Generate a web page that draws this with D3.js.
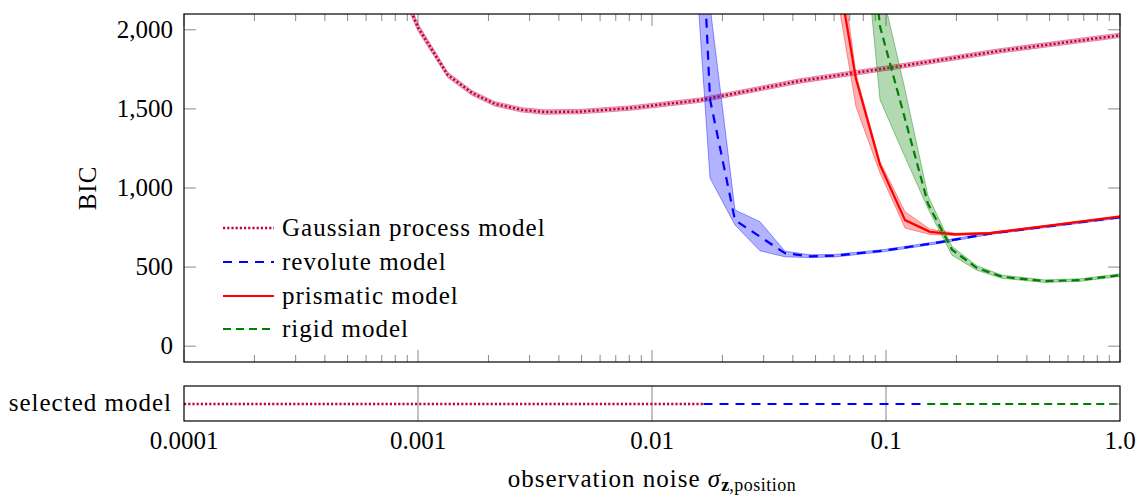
<!DOCTYPE html>
<html>
<head>
<meta charset="utf-8">
<script src="https://cdn.jsdelivr.net/npm/d3@7"></script>
<style>
  html, body { margin: 0; padding: 0; background: #fff; }
  svg { display: block; }
</style>
</head>
<body>
<div id="chart"></div>
<script>
// ---- data ----
const xTicks = [0.0001, 0.001, 0.01, 0.1, 1.0];
const xTickLabels = ["0.0001", "0.001", "0.01", "0.1", "1.0"];
const yTicks = [0, 500, 1000, 1500, 2000];

// Gaussian process model
const gpNoise = [0.00085, 0.001, 0.00134, 0.0017, 0.00213, 0.00278, 0.00349, 0.00492, 0.00805, 0.016, 0.0429, 0.115, 0.307, 1.0];
const gpBIC   = [2260, 2015, 1715, 1601, 1532, 1494, 1480, 1483, 1505, 1555, 1677, 1770, 1867, 1965];
const gpLo    = [2232, 1992, 1698, 1586, 1518, 1480, 1466, 1469, 1491, 1541, 1663, 1756, 1853, 1951];
const gpHi    = [2288, 2038, 1732, 1616, 1546, 1508, 1494, 1497, 1519, 1569, 1691, 1784, 1881, 1979];

// revolute model
const revNoise = [0.01384, 0.0177, 0.02263, 0.02894, 0.03701, 0.04734, 0.06053, 0.099, 0.162, 0.2782, 0.5024, 1.0];
const revBIC   = [5000, 1560, 797, 692, 588, 568, 572, 605, 652, 712, 759, 815];
const revLo    = [3400, 1063, 766, 603, 565, 560, 564, 598, 645, 706, 753, 809];
const revHi    = [8000, 2150, 861, 787, 600, 578, 580, 612, 659, 718, 765, 821];

// prismatic model
const priNoise = [0.0582, 0.0744, 0.0943, 0.1206, 0.1542, 0.1972, 0.2782, 0.5024, 1.0];
const priBIC   = [2620, 1690, 1146, 797, 723, 707, 715, 763, 820];
const priLo    = [2450, 1515, 1095, 747, 706, 700, 710, 758, 815];
const priHi    = [2900, 1720, 1166, 850, 740, 714, 720, 768, 825];

// rigid model
const rigNoise = [0.0737, 0.0943, 0.1194, 0.1512, 0.1915, 0.2448, 0.3132, 0.478, 0.675, 1.0];
const rigBIC   = [3500, 2020, 1460, 900, 610, 494, 439, 411, 418, 449];
const rigLo    = [3200, 1557, 1210, 870, 575, 480, 429, 403, 410, 441];
const rigHi    = [3800, 2300, 1650, 950, 630, 508, 449, 419, 426, 457];

// selected model strip: segment boundaries
const selBounds = [0.0001, 0.0166, 0.15, 1.0];
const selModels = ["gp", "rev", "rig"];

// ---- styles ----
const FONT = "'Liberation Serif', 'DejaVu Serif', 'Times New Roman', serif";
const styles = {
  gp:  { name: "Gaussian process model", color: "#c4003f", dash: "2.2,2", width: 2.5 },
  rev: { name: "revolute model",         color: "#0000ff", dash: "9,7",   width: 2.2 },
  pri: { name: "prismatic model",        color: "#ff0000", dash: null,    width: 2.2 },
  rig: { name: "rigid model",            color: "#008000", dash: "8,5",   width: 2.2 }
};

const series = [
  { key: "gp",  x: gpNoise,  y: gpBIC,  lo: gpLo,  hi: gpHi },
  { key: "rev", x: revNoise, y: revBIC, lo: revLo, hi: revHi },
  { key: "pri", x: priNoise, y: priBIC, lo: priLo, hi: priHi },
  { key: "rig", x: rigNoise, y: rigBIC, lo: rigLo, hi: rigHi }
];

const W = 1139, H = 498;
const plot = { left: 184, right: 1120, top: 14, bottom: 362 };
const strip = { top: 386, bottom: 421 };

const svg = d3.select("#chart").append("svg")
  .attr("width", W).attr("height", H)
  .attr("font-family", FONT)
  .style("font-family", FONT);

const x = d3.scaleLog().domain([0.0001, 1.0]).range([plot.left, plot.right]);
const y = d3.scaleLinear().domain([-100, 2100]).range([plot.bottom, plot.top]);

svg.append("clipPath").attr("id", "clip")
  .append("rect")
  .attr("x", plot.left).attr("y", plot.top)
  .attr("width", plot.right - plot.left).attr("height", plot.bottom - plot.top);

// ticks (inside, gray)
const tickColor = "#8a8a8a";
const minorTicks = [];
for (let e = -4; e < 0; e++) {
  for (let m = 2; m <= 9; m++) minorTicks.push(m * Math.pow(10, e));
}
const tg = svg.append("g").attr("stroke", tickColor).attr("stroke-width", 1);
minorTicks.forEach(v => {
  tg.append("line").attr("x1", x(v)).attr("x2", x(v)).attr("y1", plot.bottom).attr("y2", plot.bottom - 7);
  tg.append("line").attr("x1", x(v)).attr("x2", x(v)).attr("y1", plot.top).attr("y2", plot.top + 7);
});
xTicks.forEach(v => {
  tg.append("line").attr("x1", x(v)).attr("x2", x(v)).attr("y1", plot.bottom).attr("y2", plot.bottom - 12);
  tg.append("line").attr("x1", x(v)).attr("x2", x(v)).attr("y1", plot.top).attr("y2", plot.top + 12);
});
yTicks.forEach(v => {
  tg.append("line").attr("x1", plot.left).attr("x2", plot.left + 12).attr("y1", y(v)).attr("y2", y(v));
  tg.append("line").attr("x1", plot.right).attr("x2", plot.right - 12).attr("y1", y(v)).attr("y2", y(v));
});

// bands and lines
const area = d3.area()
  .x(d => x(d.x)).y0(d => y(d.lo)).y1(d => y(d.hi));
const line = d3.line().x(d => x(d.x)).y(d => y(d.y));

const marks = svg.append("g").attr("clip-path", "url(#clip)");
series.forEach(s => {
  const st = styles[s.key];
  const pts = s.x.map((v, i) => ({ x: v, y: s.y[i], lo: s.lo[i], hi: s.hi[i] }));
  marks.append("path").datum(pts)
    .attr("d", area)
    .attr("fill", st.color).attr("fill-opacity", 0.3)
    .attr("stroke", st.color).attr("stroke-opacity", 0.4).attr("stroke-width", 1);
  marks.append("path").datum(pts)
    .attr("d", line)
    .attr("fill", "none")
    .attr("stroke", st.color).attr("stroke-width", st.width)
    .attr("stroke-dasharray", st.dash);
});

// frame
svg.append("rect")
  .attr("x", plot.left).attr("y", plot.top)
  .attr("width", plot.right - plot.left).attr("height", plot.bottom - plot.top)
  .attr("fill", "none").attr("stroke", "#000").attr("stroke-width", 1.2);

// y tick labels
svg.append("g").selectAll("text").data(yTicks).join("text")
  .attr("x", 173).attr("y", d => y(d) + 8)
  .attr("text-anchor", "end").attr("font-size", 25)
  .text(d => d3.format(",")(d));

svg.append("text")
  .attr("transform", `translate(96,${(plot.top + plot.bottom) / 2}) rotate(-90)`)
  .attr("text-anchor", "middle").attr("font-size", 25)
  .attr("letter-spacing", 1)
  .text("BIC");

// legend
const legendKeys = ["gp", "rev", "pri", "rig"];
const legendY = [228, 262, 296, 329];
const lg = svg.append("g");
legendKeys.forEach((k, i) => {
  const st = styles[k];
  lg.append("line")
    .attr("x1", 223).attr("x2", 274).attr("y1", legendY[i]).attr("y2", legendY[i])
    .attr("stroke", st.color).attr("stroke-width", st.width)
    .attr("stroke-dasharray", st.dash);
  lg.append("text")
    .attr("x", 282).attr("y", legendY[i] + 8)
    .attr("font-size", 25).attr("letter-spacing", 1)
    .text(st.name);
});

// selected model strip
const sg = svg.append("g");
[0.001, 0.01, 0.1].forEach(v => {
  sg.append("line")
    .attr("x1", x(v)).attr("x2", x(v)).attr("y1", strip.top).attr("y2", strip.bottom)
    .attr("stroke", "#999").attr("stroke-width", 1.2);
});
const stripY = (strip.top + strip.bottom) / 2 + 0.5;
selModels.forEach((k, i) => {
  const st = styles[k];
  sg.append("line")
    .attr("x1", x(selBounds[i])).attr("x2", x(selBounds[i + 1]))
    .attr("y1", stripY).attr("y2", stripY)
    .attr("stroke", st.color).attr("stroke-width", st.width)
    .attr("stroke-dasharray", st.dash);
});
sg.append("line")
  .attr("x1", plot.right - 10).attr("x2", plot.right).attr("y1", stripY).attr("y2", stripY)
  .attr("stroke", tickColor).attr("stroke-width", 1);
sg.append("rect")
  .attr("x", plot.left).attr("y", strip.top)
  .attr("width", plot.right - plot.left).attr("height", strip.bottom - strip.top)
  .attr("fill", "none").attr("stroke", "#000").attr("stroke-width", 1.2);
svg.append("text")
  .attr("x", 172).attr("y", stripY + 7)
  .attr("text-anchor", "end").attr("font-size", 25).attr("letter-spacing", 1)
  .text("selected model");

// x tick labels
svg.append("g").selectAll("text").data(xTicks).join("text")
  .attr("x", d => x(d)).attr("y", 449)
  .attr("text-anchor", "middle").attr("font-size", 25)
  .text((d, i) => xTickLabels[i]);

// x axis label
const xl = svg.append("text")
  .attr("x", 652).attr("y", 487)
  .attr("text-anchor", "middle").attr("font-size", 25).attr("letter-spacing", 1);
xl.append("tspan").text("observation noise ");
xl.append("tspan").attr("font-style", "italic").text("σ");
xl.append("tspan").attr("font-size", 18).attr("font-weight", "bold").attr("dy", 4).attr("letter-spacing", 0).text("z");
xl.append("tspan").attr("font-size", 18).attr("letter-spacing", 0.5).text(",position");
</script>
</body>
</html>
